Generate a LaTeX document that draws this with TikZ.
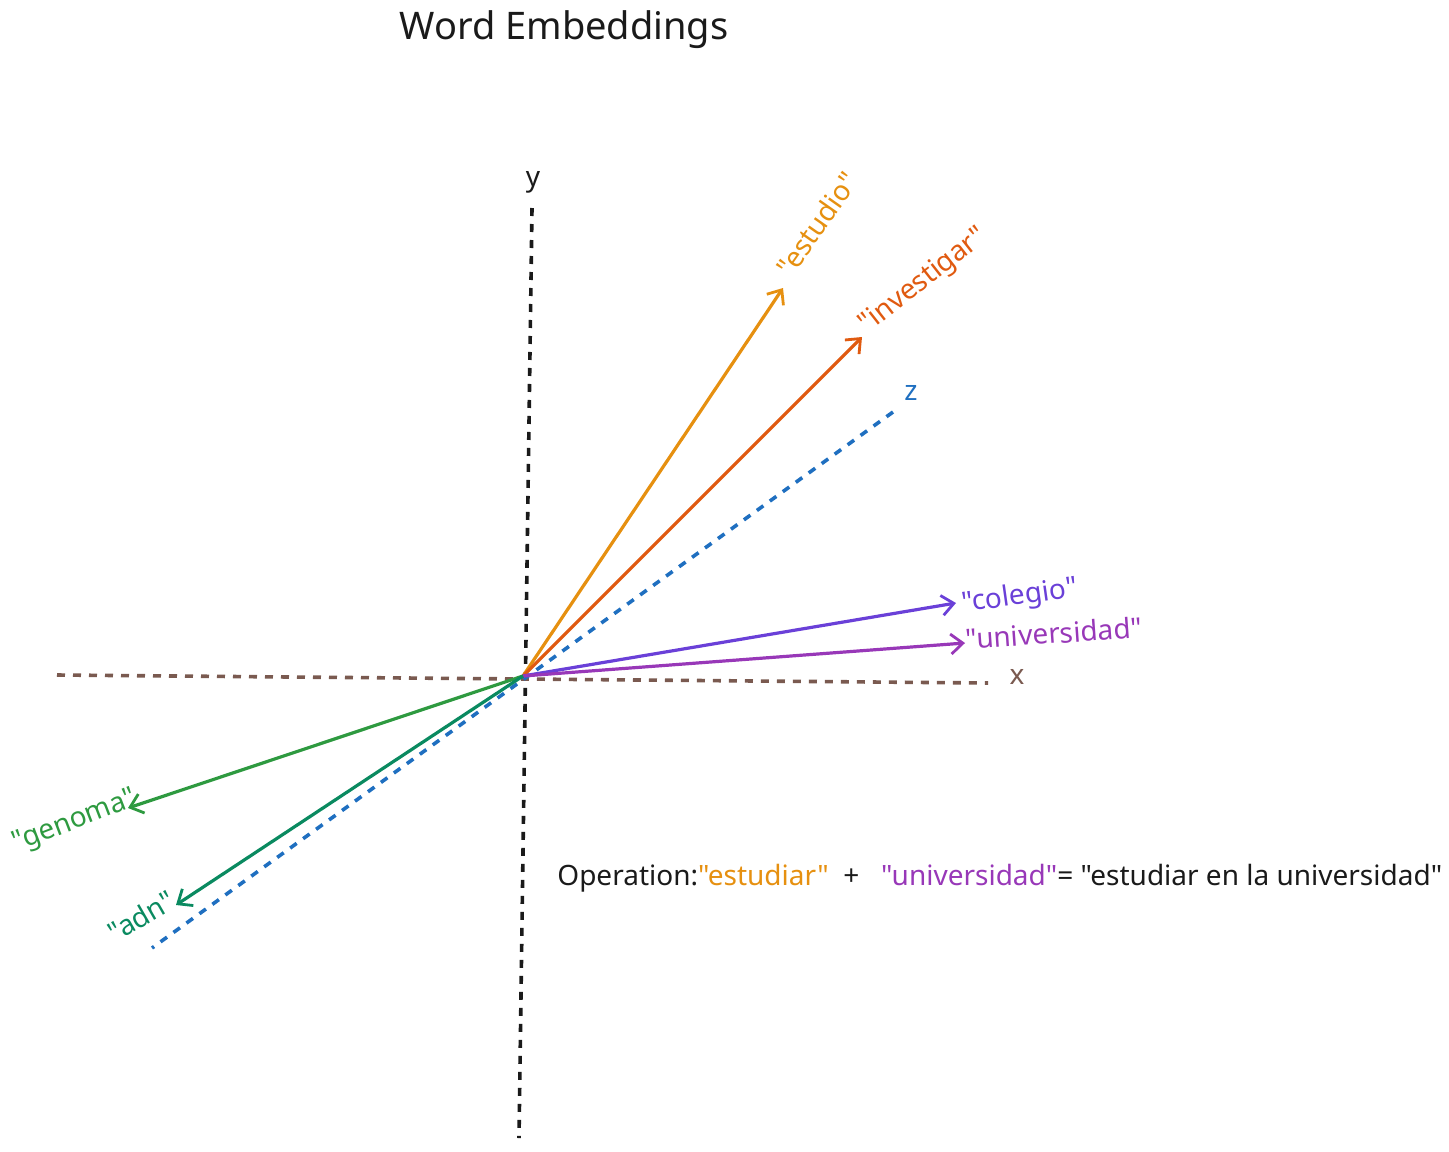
\documentclass[tikz,border=0pt]{standalone}
\usepackage{fontspec}
\newfontfamily\nf{Noto Sans}
\usetikzlibrary{arrows.meta}
\definecolor{cest}{HTML}{E69010}
\definecolor{cinv}{HTML}{E05A10}
\definecolor{cz}{HTML}{1F6FC0}
\definecolor{ccol}{HTML}{6A40D8}
\definecolor{cuni}{HTML}{9838B8}
\definecolor{cx}{HTML}{7A5A50}
\definecolor{cgen}{HTML}{2E9A40}
\definecolor{cadn}{HTML}{0A8A60}
\definecolor{ctxt}{HTML}{1A1A1A}
\begin{document}
\begin{tikzpicture}[x=0.5pt,y=-0.5pt,
  axis/.style={line width=1.8pt,dash pattern=on 4pt off 4pt},
  vec/.style={line width=1.6pt,-{Straight Barb[length=6pt,width=10pt,line width=1.4pt]}},
  lbl/.style={font=\nf\fontsize{14}{16}\selectfont,inner sep=0pt}]
\useasboundingbox (0,0) rectangle (1449,1151);
\node[font=\nf\fontsize{19}{21}\selectfont,text=ctxt] (title) at (564,30) {Word Embeddings};
\coordinate (o) at (523,676);
\coordinate (ytop) at (532,208); \coordinate (ybot) at (519,1138);
\coordinate (xl) at (57,675); \coordinate (xr) at (988,683);
\coordinate (zt) at (893,412); \coordinate (zb) at (152,948);
\draw[axis,ctxt] (ytop) -- (ybot);
\draw[axis,cx] (xl) -- (xr);
\draw[axis,cz] (zt) -- (zb);
\node[lbl,text=ctxt] (ly) at (533,182) {y};
\node[lbl,text=cx] (lx) at (1017,677) {x};
\node[lbl,text=cz] (lz) at (911,393) {z};
\coordinate (pest) at (783,288); \coordinate (pinv) at (862,337);
\coordinate (pcol) at (956,603); \coordinate (puni) at (965,643);
\coordinate (pgen) at (128,808); \coordinate (padn) at (176,905);
\draw[vec,cest] (o) -- (pest);
\draw[vec,cinv] (o) -- (pinv);
\draw[vec,ccol] (o) -- (pcol);
\draw[vec,cuni] (o) -- (puni);
\draw[vec,cgen] (o) -- (pgen);
\draw[vec,cadn] (o) -- (padn);
\node[lbl,text=cest,rotate=55] (lest) at (817,224) {"estudio"};
\node[lbl,text=cinv,rotate=38] (linv) at (924,281) {"investigar"};
\node[lbl,text=ccol,rotate=8] (lcol) at (1020,597) {"colegio"};
\node[lbl,text=cuni,rotate=4] (luni) at (1054,633) {"universidad"};
\node[lbl,text=cgen,rotate=21] (lgen) at (75,822) {"genoma"};
\node[lbl,text=cadn,rotate=30] (ladn) at (141,916) {"adn"};
\node[lbl,anchor=base west,text=ctxt] (op) at (557,885) {Operation:\textcolor{cest}{"estudiar"}\ \ +\ \ \ \textcolor{cuni}{"universidad"}= "estudiar en la universidad"};
\end{tikzpicture}
\end{document}
